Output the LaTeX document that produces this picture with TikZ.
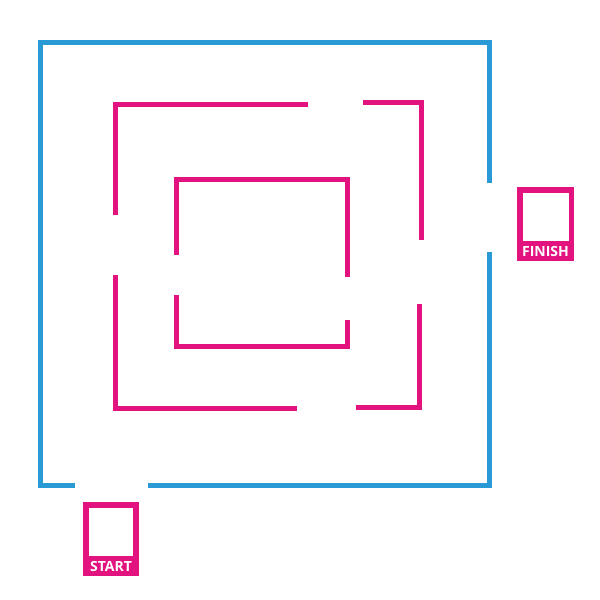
\documentclass[tikz,border=0pt]{standalone}
\usepackage{fontspec}
\setmainfont{Open Sans}
\definecolor{mazeblue}{HTML}{2A9AD6}
\definecolor{mazepink}{HTML}{E2127F}
\begin{document}
\begin{tikzpicture}[x=1pt,y=-1pt,
  outerwall/.style={draw=mazeblue,line width=5pt},
  innerwall/.style={draw=mazepink,line width=5pt},
  tag/.style={fill=mazepink,text=white,font=\bfseries\fontsize{14}{14}\selectfont,inner sep=0pt}]
  \useasboundingbox (0,0) rectangle (600,600);
  % outer wall
  \draw[outerwall] (75,485) -- (40,485) -- (40,42) -- (489,42) -- (489,183);
  \draw[outerwall] (489,252) -- (489,485) -- (148,485);
  % middle ring
  \draw[innerwall] (115,215) -- (115,104) -- (308,104);
  \draw[innerwall] (363,102) -- (421,102) -- (421,240);
  \draw[innerwall] (115,275) -- (115,408) -- (297,408);
  \draw[innerwall] (356,407) -- (419,407) -- (419,304);
  % inner ring
  \draw[innerwall] (176,255) -- (176,179) -- (347,179) -- (347,277);
  \draw[innerwall] (176,295) -- (176,346) -- (347,346) -- (347,320);
  % finish and start boxes
  \fill[mazepink] (517,187) rectangle (574,261);
  \fill[white] (523,193) rectangle (569,241);
  \node[tag] (finish) at (545.5,251) {FINISH};
  \fill[mazepink] (83,502) rectangle (139,576);
  \fill[white] (89,508) rectangle (133,556);
  \node[tag] (start) at (111,566) {START};
\end{tikzpicture}
\end{document}
